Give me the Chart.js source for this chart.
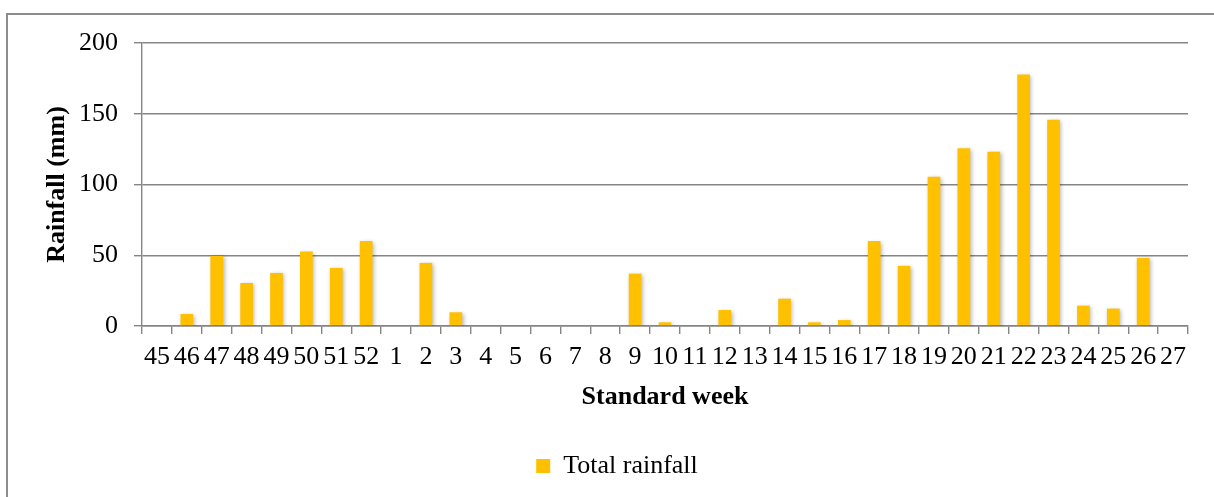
<!DOCTYPE html>
<html>
<head>
<meta charset="utf-8">
<script src="https://cdn.jsdelivr.net/npm/chart.js@4.4.1/dist/chart.umd.min.js"></script>
<style>
  html, body { margin: 0; padding: 0; background: #ffffff; }
  #wrap { width: 1214px; height: 497px; position: relative; }
</style>
</head>
<body>
<div id="wrap"><canvas id="chart" width="1214" height="497"></canvas></div>
<script>
// Standard meteorological weeks (Nov – Jul) and weekly rainfall totals (mm)
const weeks = ['45','46','47','48','49','50','51','52','1','2','3','4','5','6','7','8','9','10','11',
               '12','13','14','15','16','17','18','19','20','21','22','23','24','25','26','27'];
const totalRainfall = [0, 8.5, 49.5, 30.4, 37.5, 52.6, 41.0, 60.1, 0, 44.6, 9.7, 0, 0, 0, 0, 0, 37.0, 2.6, 0,
                       11.3, 0, 19.3, 2.6, 4.2, 60.0, 42.5, 105.4, 125.7, 123.1, 177.8, 145.8, 14.4, 12.3, 48.1, 0];
const yTicks = [0, 50, 100, 150, 200];

const serif = "'Liberation Serif', 'Times New Roman', serif";
const gridGrey = '#858585';

// Frame around the figure and a soft drop shadow under the bars
const framePlugin = {
  id: 'frame',
  afterDraw(chart) {
    const ctx = chart.ctx;
    ctx.save();
    ctx.strokeStyle = '#8c8c8c';
    ctx.lineWidth = 2;
    ctx.strokeRect(7, 14, 1300, 600);
    ctx.restore();
  }
};
const shadowPlugin = {
  id: 'barShadow',
  beforeDatasetDraw(chart) {
    const ctx = chart.ctx;
    ctx.save();
    ctx.shadowColor = 'rgba(0,0,0,0.28)';
    ctx.shadowBlur = 4;
    ctx.shadowOffsetX = 1.5;
    ctx.shadowOffsetY = 1.5;
  },
  afterDatasetDraw(chart) {
    chart.ctx.restore();
  }
};

new Chart(document.getElementById('chart'), {
  type: 'bar',
  data: {
    labels: weeks,
    datasets: [{
      label: 'Total rainfall',
      data: totalRainfall,
      backgroundColor: '#FFC000',
      borderWidth: 0,
      barPercentage: 0.85,
      categoryPercentage: 0.5
    }]
  },
  options: {
    responsive: false,
    animation: false,
    devicePixelRatio: 1,
    layout: { padding: { top: 43, left: 46, right: 26, bottom: 8 } },
    plugins: {
      legend: {
        position: 'bottom',
        labels: {
          color: '#000',
          boxWidth: 14,
          boxHeight: 14,
          padding: 10,
          font: { family: serif, size: 26 }
        }
      },
      tooltip: { enabled: false }
    },
    scales: {
      x: {
        offset: true,
        grid: {
          offset: true,
          drawOnChartArea: false,
          drawTicks: true,
          tickLength: 8,
          color: gridGrey,
          lineWidth: 1.4
        },
        border: { display: true, color: gridGrey, width: 1.4 },
        ticks: {
          color: '#000',
          autoSkip: false,
          maxRotation: 0,
          minRotation: 0,
          padding: 8,
          font: { family: serif, size: 26 }
        },
        title: {
          display: true,
          text: 'Standard week',
          color: '#000',
          font: { family: serif, size: 26, weight: 'bold' },
          padding: { top: 0, bottom: 30 }
        },
        afterFit(scale) { scale.height = 117; }
      },
      y: {
        min: 0,
        max: 200,
        afterBuildTicks(scale) { scale.ticks = yTicks.map(v => ({ value: v })); },
        grid: {
          color: gridGrey,
          lineWidth: 1.4,
          tickLength: 8
        },
        border: { display: true, color: gridGrey, width: 1.4 },
        ticks: {
          color: '#000',
          padding: 16,
          font: { family: serif, size: 26 }
        },
        title: {
          display: true,
          text: 'Rainfall (mm)',
          color: '#000',
          font: { family: serif, size: 26, weight: 'bold', lineHeight: 0.85 },
          padding: { top: 0, bottom: 0 }
        },
        afterFit(scale) { scale.width = 96; }
      }
    }
  },
  plugins: [shadowPlugin, framePlugin]
});
</script>
</body>
</html>
